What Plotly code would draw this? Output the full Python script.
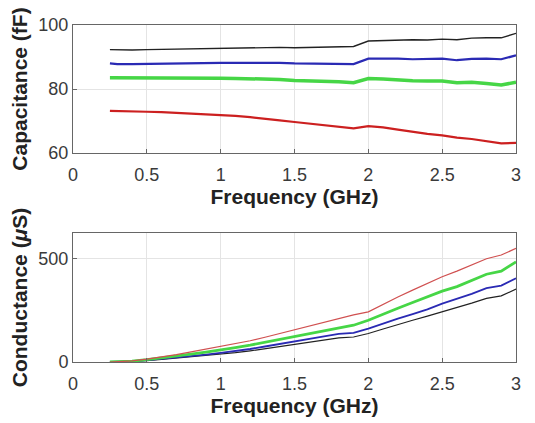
import plotly.graph_objects as go
from plotly.subplots import make_subplots

# frequency points (GHz)
freq = [0.25, 0.3, 0.4, 0.5, 0.6, 0.7, 0.8, 0.9, 1.0, 1.1, 1.2, 1.3, 1.4, 1.5,
        1.6, 1.7, 1.8, 1.9, 2.0, 2.1, 2.2, 2.3, 2.4, 2.5, 2.6, 2.7, 2.8, 2.9, 3.0]

# capacitance (fF)
cap_black = [92.3, 92.2, 92.2, 92.3, 92.4, 92.5, 92.6, 92.7, 92.8, 92.9, 93.0, 93.1, 93.0, 92.9,
             93.0, 93.1, 93.2, 93.3, 95.0, 95.2, 95.2, 95.4, 95.3, 95.6, 95.4, 95.9, 96.0, 96.0, 97.4]
cap_blue = [88.0, 87.8, 87.8, 87.9, 88.0, 88.0, 88.1, 88.1, 88.2, 88.2, 88.2, 88.3, 88.2, 88.0,
            87.9, 87.9, 87.9, 87.8, 89.5, 89.6, 89.5, 89.3, 89.4, 89.5, 89.0, 89.4, 89.5, 89.3, 90.5]
cap_green = [83.5, 83.5, 83.5, 83.5, 83.6, 83.6, 83.6, 83.5, 83.4, 83.3, 83.2, 83.2, 83.0, 82.7,
             82.6, 82.5, 82.3, 82.0, 83.3, 83.1, 82.8, 82.6, 82.5, 82.5, 82.0, 82.1, 81.7, 81.3, 82.1]
cap_red = [73.2, 73.1, 73.0, 72.9, 72.8, 72.6, 72.4, 72.1, 71.9, 71.6, 71.2, 70.8, 70.2, 69.7,
           69.2, 68.8, 68.2, 67.7, 68.4, 68.0, 67.3, 66.6, 66.0, 65.5, 64.8, 64.4, 63.8, 63.0, 63.2]

# conductance (uS)
cond_red = [0, 1, 5, 14, 24, 36, 49, 62, 75, 88, 103, 120, 138, 157,
            175, 194, 213, 228, 243, 280, 315, 348, 380, 413, 440, 472, 500, 518, 550]
cond_green = [0, 1, 4, 11, 19, 28, 38, 48, 58, 70, 82, 96, 110, 124,
              137, 151, 165, 178, 202, 232, 260, 288, 315, 343, 365, 395, 425, 440, 485]
cond_blue = [0, 1, 3, 9, 15, 22, 29, 36, 44, 53, 63, 75, 88, 100,
             112, 124, 136, 141, 162, 187, 210, 232, 255, 283, 305, 330, 358, 370, 405]
cond_black = [0, 1, 3, 7, 12, 18, 24, 30, 37, 45, 54, 64, 75, 86,
              96, 106, 117, 121, 138, 160, 182, 202, 222, 243, 262, 285, 308, 320, 353]

x_ticks = [0, 0.5, 1, 1.5, 2, 2.5, 3]
x_labels = ["0", "0.5", "1", "1.5", "2", "2.5", "3"]

fig = make_subplots(rows=2, cols=1)

top = [
    (cap_black, "#222222", 1.4),
    (cap_blue, "#2a2ab4", 2.2),
    (cap_green, "#46d646", 3.5),
    (cap_red, "#cc2020", 2.2),
]
for vals, col, w in top:
    fig.add_trace(go.Scatter(x=freq, y=vals, mode="lines",
                             line=dict(color=col, width=w), showlegend=False),
                  row=1, col=1)

bottom = [
    (cond_black, "#222222", 1.2),
    (cond_blue, "#2a2ab4", 1.8),
    (cond_green, "#46d646", 2.8),
    (cond_red, "#d05050", 1.2),
]
for vals, col, w in bottom:
    fig.add_trace(go.Scatter(x=freq, y=vals, mode="lines",
                             line=dict(color=col, width=w), showlegend=False),
                  row=2, col=1)

axis_style = dict(
    showline=True, mirror=True, linecolor="#666666", linewidth=1,
    showgrid=True, gridcolor="#e4e4e4", gridwidth=1,
    ticks="inside", ticklen=4, tickcolor="#666666",
    zeroline=False, automargin=False,
    tickfont=dict(family="Liberation Sans, Arial", size=18, color="#3a3a3a"),
)
title_font = dict(family="Liberation Sans, Arial", size=21, color="#222222")

fig.update_xaxes(range=[0, 3], tickvals=x_ticks, ticktext=x_labels, ticklabelstandoff=5,
                 title=dict(text="<b>Frequency (GHz)</b>", font=title_font, standoff=3),
                 **axis_style)
fig.update_yaxes(range=[60, 100], tickvals=[60, 80, 100], row=1, col=1,
                 title=dict(text="<b>Capacitance (fF)</b>", font=title_font, standoff=6),
                 **axis_style)
fig.update_yaxes(range=[0, 625], tickvals=[0, 500], row=2, col=1,
                 title=dict(text="<b>Conductance (<i>μ</i>S)</b>", font=title_font, standoff=6),
                 **axis_style)

# page body adds an 8px offset, margins compensate for it
fig.update_layout(
    width=535, height=423,
    margin=dict(l=65, r=27, t=17, b=69),
    plot_bgcolor="white", paper_bgcolor="white",
    xaxis=dict(domain=[0, 1]),
    xaxis2=dict(domain=[0, 1]),
    yaxis=dict(domain=[0.62, 1]),
    yaxis2=dict(domain=[0, 0.383]),
)

fig.write_html("out.html")
